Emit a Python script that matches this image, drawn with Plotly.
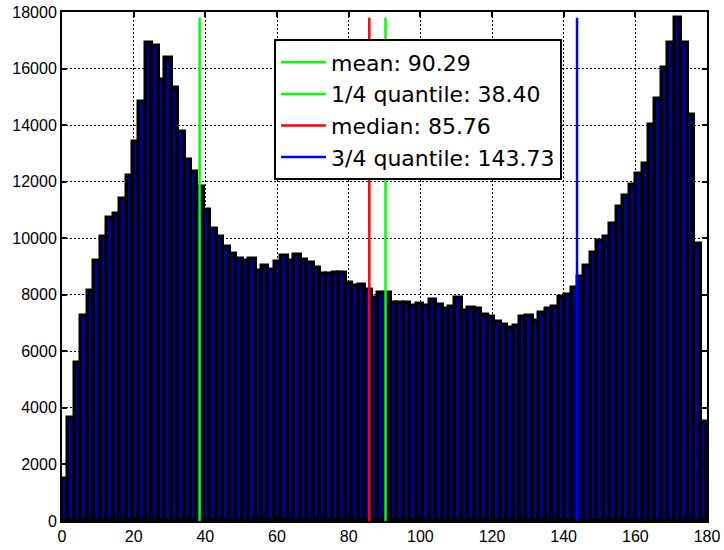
import plotly.graph_objects as go
import numpy as np

# Histogram: 100 bins spanning 0..180
bin_start = 0.0
bin_width = 1.8
counts = [
    1500, 3660, 5590, 7250, 8150, 9190, 10040, 10710, 10860, 11370,
    12190, 13390, 14830, 16890, 16800, 15600, 16360, 15330, 13740, 12780,
    12330, 11800, 11000, 10330, 10040, 9680, 9430, 9280, 9190, 9260,
    8850, 9010, 8870, 9160, 9360, 9190, 9400, 9220, 9130, 8930,
    8720, 8720, 8760, 8760, 8430, 8320, 8340, 8160, 7870, 8080,
    8080, 7720, 7720, 7720, 7600, 7690, 7600, 7810, 7650, 7480,
    7570, 7870, 7420, 7530, 7480, 7280, 7220, 7040, 6930, 6830,
    6900, 7200, 7240, 7070, 7360, 7510, 7570, 7930, 7990, 8240,
    8630, 9010, 9480, 9890, 10050, 10500, 11100, 11480, 11880, 12280,
    12640, 13990, 14910, 16030, 16900, 17800, 16900, 14350, 9780, 3500,
]

stat_names = ["mean", "1/4 quantile", "median", "3/4 quantile"]
stat_values = [90.29, 38.40, 85.76, 143.73]
stat_colors = ["#00FF00", "#00FF00", "#FF0000", "#0000FF"]

x_ticks = [0, 20, 40, 60, 80, 100, 120, 140, 160, 180]
y_ticks = [0, 2000, 4000, 6000, 8000, 10000, 12000, 14000, 16000, 18000]

centers = bin_start + bin_width * (np.arange(len(counts)) + 0.5)

fig = go.Figure()
fig.add_trace(go.Bar(
    x=centers, y=counts, width=bin_width,
    marker=dict(color="rgb(0,0,143)", line=dict(color="black", width=3.5)),
    showlegend=False, hoverinfo="x+y",
))

ymax = max(counts)
for name, v, c in zip(stat_names, stat_values, stat_colors):
    fig.add_trace(go.Scatter(
        x=[v, v], y=[0, ymax], mode="lines",
        line=dict(color=c, width=2.5),
        name=f"{name}: {v:.2f}",
    ))

axis_common = dict(
    showline=True, linecolor="black", linewidth=2, mirror="allticks",
    ticks="inside", ticklen=5, tickwidth=1.5, tickcolor="black",
    showgrid=True, gridcolor="black", griddash="2px,2px", gridwidth=1.4,
    zeroline=False, automargin=False,
    tickfont=dict(family="Liberation Sans, Arial", size=16, color="black"),
)

fig.update_layout(
    width=724, height=550,
    margin=dict(l=62, r=17, t=12, b=29),
    paper_bgcolor="white", plot_bgcolor="white",
    bargap=0,
    xaxis=dict(range=[0, 180], tickvals=x_ticks, **axis_common),
    yaxis=dict(range=[0, 18000], tickvals=y_ticks, tickformat="d", **axis_common),
    legend=dict(
        x=0.3287, y=0.946, xanchor="left", yanchor="top",
        bgcolor="white", bordercolor="black", borderwidth=2,
        font=dict(family="DejaVu Sans", size=22, color="black"),
        itemwidth=45, tracegroupgap=0,
    ),
)

fig.write_html("out.html")
